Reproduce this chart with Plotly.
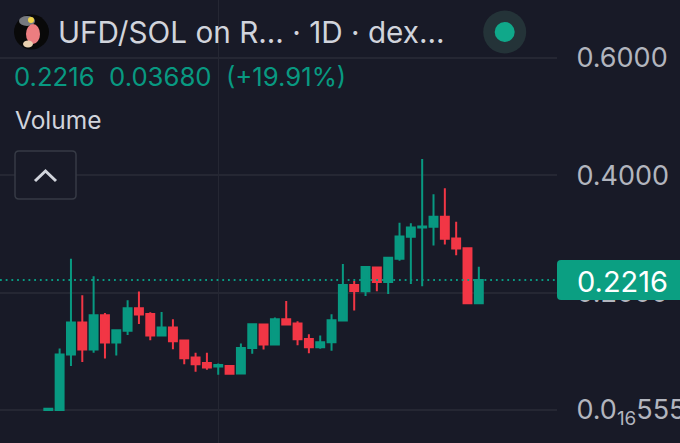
import plotly.graph_objects as go

opens  = [0.000,0.000,0.0947,0.149,0.103,0.1615,0.115,0.135,0.1734,0.1637,0.127,0.1406,0.1185,0.0896,0.080,0.0743,0.0748,0.0624,0.1059,0.1457,0.1117,0.1547,0.1474,0.1212,0.1071,0.1156,0.1525,0.213,0.2023,0.2431,0.2181,0.2579,0.2953,0.3111,0.3123,0.3293,0.2924,0.2759,0.1819]
highs  = [0.002,0.105,0.258,0.1955,0.228,0.1655,0.136,0.187,0.202,0.1666,0.167,0.1547,0.1185,0.0974,0.0974,0.0794,0.076,0.1134,0.1474,0.1457,0.1576,0.1858,0.1513,0.1292,0.127,0.1632,0.2487,0.2198,0.2436,0.2431,0.2596,0.3191,0.3184,0.4279,0.3677,0.3779,0.3208,0.2759,0.2443]
lows   = [0.000,0.000,0.075,0.082,0.0975,0.088,0.093,0.128,0.1467,0.119,0.127,0.1037,0.078,0.065,0.0685,0.060,0.0617,0.0624,0.0957,0.1032,0.1117,0.1457,0.1105,0.0969,0.1042,0.1008,0.1525,0.1695,0.1943,0.2023,0.1977,0.2545,0.2147,0.2108,0.2805,0.2822,0.264,0.1819,0.1819]
closes = [0.002,0.0947,0.149,0.103,0.1615,0.115,0.136,0.1734,0.1627,0.127,0.1406,0.1173,0.0884,0.078,0.0726,0.0765,0.0617,0.1059,0.1462,0.1117,0.1547,0.1457,0.1207,0.1071,0.1156,0.153,0.213,0.2028,0.2436,0.2181,0.2596,0.2958,0.3111,0.3128,0.3293,0.2919,0.2754,0.1819,0.2216]
days = list(range(len(opens)))

tick_values = [0.6, 0.4, 0.2, 0.0]
tick_labels = ["0.6000", "0.4000", "0.2000", "0.0<sub>16</sub>555"]
last_price = 0.2216
grid_day = 15

BG = "#181a27"
GREEN = "#089981"
RED = "#f23645"
GRID = "#252733"
TEXT = "#d1d4dc"
AXIS = "#b2b5be"
FONT = "Inter, Roboto, sans-serif"

W, H, PW = 680, 443, 557
def X(v): return v / W
def Y(v): return 1 - v / H

def circle(cx, cy, rx, ry, color):
    return dict(type="circle", xref="paper", yref="paper", x0=X(cx - rx), x1=X(cx + rx),
                y0=Y(cy + ry), y1=Y(cy - ry), fillcolor=color, line_width=0, layer="above")

def rrect(x0, y0, x1, y1, r):
    return (f"M{X(x0+r)},{Y(y0)} L{X(x1-r)},{Y(y0)} Q{X(x1)},{Y(y0)} {X(x1)},{Y(y0+r)} "
            f"L{X(x1)},{Y(y1-r)} Q{X(x1)},{Y(y1)} {X(x1-r)},{Y(y1)} L{X(x0+r)},{Y(y1)} "
            f"Q{X(x0)},{Y(y1)} {X(x0)},{Y(y1-r)} L{X(x0)},{Y(y0+r)} Q{X(x0)},{Y(y0)} {X(x0+r)},{Y(y0)} Z")

def poly(points):
    return "M" + " L".join(f"{X(a)},{Y(b)}" for a, b in points)

fig = go.Figure(go.Candlestick(
    x=days, open=opens, high=highs, low=lows, close=closes,
    increasing=dict(line=dict(color=GREEN, width=2), fillcolor=GREEN),
    decreasing=dict(line=dict(color=RED, width=2), fillcolor=RED),
    whiskerwidth=0, hoverinfo="skip", showlegend=False))

def path(d, **kw):
    return dict(type="path", xref="paper", yref="paper", path=d, layer="above", **kw)

shapes = [
    dict(type="line", xref="paper", yref="y", x0=0, x1=X(PW), y0=last_price, y1=last_price,
         line=dict(color=GREEN, width=1.8, dash="1.8px,3.9px"), layer="above"),
    path(rrect(557, 260, 684, 300, 4), fillcolor="#0b9f82", line_width=0),
    path(rrect(15, 151, 76, 199, 4), fillcolor=BG, line=dict(color="#363a45", width=1.5)),
    path(poly([(35, 181), (45.5, 171), (56, 181)]), line=dict(color=TEXT, width=3)),
    circle(504.7, 32, 21.5, 21.5, "#243338"),
    circle(504.7, 32, 10, 10, "#10a88a"),
    circle(31.5, 32, 17.5, 17.5, "#090909"),
    circle(27, 21, 8, 5, "#777a80"),
    circle(33, 34, 7, 10, "#ec7d80"),
    circle(28, 44, 5, 3.5, "#e9d0b0"),
    circle(31, 20, 3, 3, "#efd34a"),
]

def text(x, y, s, size, color, anchor="left"):
    return dict(xref="paper", yref="paper", x=X(x), y=Y(y), text=s, showarrow=False, xanchor=anchor,
                yanchor="middle", font=dict(family=FONT, size=size, color=color), borderpad=0)

annotations = [
    text(57, 32, "UFD/SOL on R... · 1D · dex...", 29.7, TEXT),
    text(13, 76, "0.2216  0.03680  (+19.91%)", 25.7, GREEN),
    text(14, 120, "Volume", 24.5, TEXT),
    text(622, 281, "0.2216", 29, "#ffffff", "center"),
]

fig.update_layout(
    width=W, height=H, margin=dict(l=0, r=0, t=0, b=0, pad=0, autoexpand=False),
    paper_bgcolor=BG, plot_bgcolor=BG, boxgap=0.3, boxgroupgap=0, showlegend=False, hovermode=False,
    shapes=shapes, annotations=annotations, font=dict(family=FONT),
    xaxis=dict(domain=[0, PW / W], range=[-4.263, 44.9], rangeslider=dict(visible=False),
               tickmode="array", tickvals=[grid_day], showticklabels=False, ticks="",
               showgrid=True, gridcolor=GRID, gridwidth=1, zeroline=False, showline=False),
    yaxis=dict(domain=[0, 1], range=[-0.05625, 0.6989], side="right", tickmode="array",
               tickvals=tick_values, ticktext=tick_labels, tickfont=dict(family=FONT, size=27, color=AXIS),
               ticks="outside", ticklen=13, tickcolor=BG, showgrid=True, gridcolor=GRID, gridwidth=1.5,
               zeroline=False, showline=False),
)

fig.write_html("out.html", config={"displayModeBar": False},
               post_script="document.body.style.margin='0';document.body.style.overflow='hidden';")
